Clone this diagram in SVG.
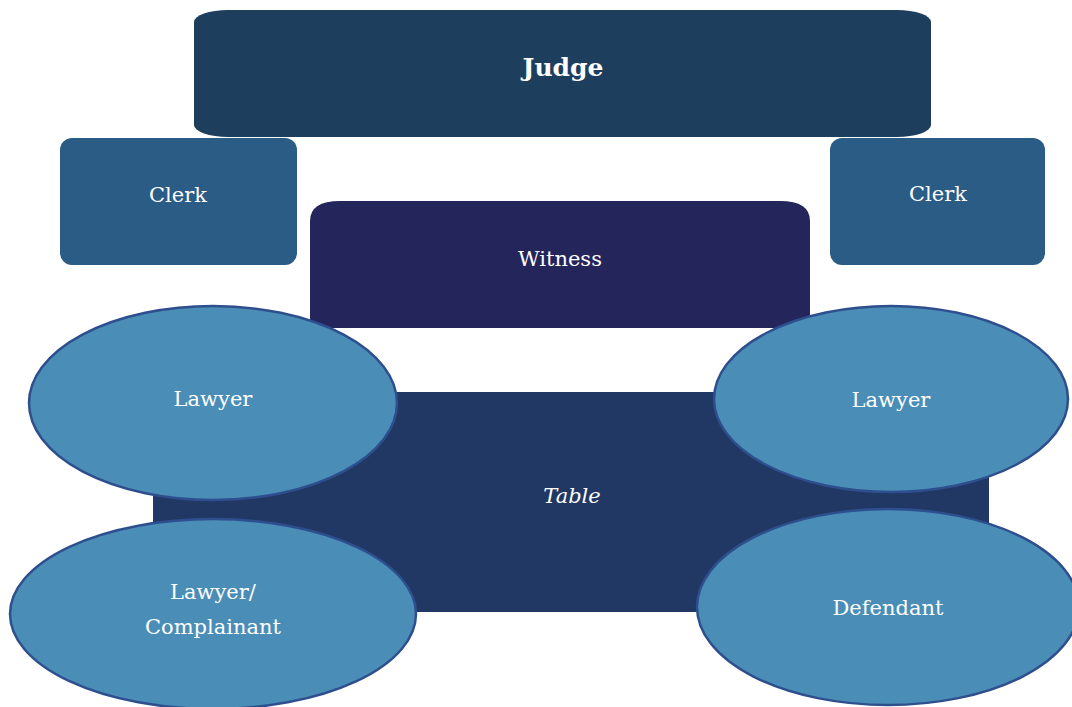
<svg xmlns="http://www.w3.org/2000/svg" width="1072" height="707" viewBox="0 0 1072 707">
<style>
text{font-family:"DejaVu Serif","Liberation Serif",serif;fill:#ffffff;font-size:21px;text-anchor:middle;dominant-baseline:central}
.ell{fill:#4a8db6;stroke:#2e4f8e;stroke-width:2.5}
.clerk{fill:#2a5c86}
</style>
<rect width="1072" height="707" fill="#ffffff"/>
<g id="judge">
<rect x="194" y="10" width="737" height="127" rx="34" ry="12" fill="#1e3e5e"/>
<text x="563" y="67" style="font-weight:bold;font-size:25px">Judge</text>
</g>
<g id="clerk-left">
<rect class="clerk" x="60" y="138" width="237" height="127" rx="12"/>
<text x="178" y="195">Clerk</text>
</g>
<g id="clerk-right">
<rect class="clerk" x="830" y="138" width="215" height="127" rx="12"/>
<text x="938" y="194">Clerk</text>
</g>
<g id="witness">
<path d="M310,221 Q310,201 340,201 H780 Q810,201 810,221 V328 H310 Z" fill="#23255b"/>
<text x="560" y="259">Witness</text>
</g>
<g id="table">
<rect x="153" y="392" width="836" height="220" fill="#213864"/>
<text x="572" y="496" style="font-style:italic">Table</text>
</g>
<g id="lawyer-left">
<ellipse class="ell" cx="213" cy="403" rx="184" ry="97"/>
<text x="213" y="399">Lawyer</text>
</g>
<g id="lawyer-right">
<ellipse class="ell" cx="891" cy="399" rx="177" ry="93"/>
<text x="891" y="400">Lawyer</text>
</g>
<g id="complainant">
<ellipse class="ell" cx="213" cy="614" rx="203" ry="95"/>
<text x="213" y="592">Lawyer/</text>
<text x="213" y="627">Complainant</text>
</g>
<g id="defendant">
<ellipse class="ell" cx="888" cy="607" rx="191" ry="98"/>
<text x="888" y="608">Defendant</text>
</g>
<g id="connectors"></g>
</svg>
